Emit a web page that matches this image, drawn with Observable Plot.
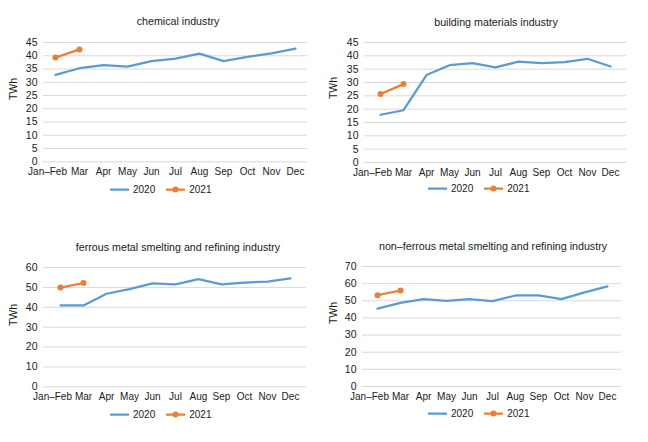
<!DOCTYPE html>
<html>
<head>
<meta charset="utf-8">
<script src="https://cdn.jsdelivr.net/npm/d3@7"></script>
<script src="https://cdn.jsdelivr.net/npm/@observablehq/plot@0.6"></script>
<style>
  html, body { margin: 0; padding: 0; background: #fff; }
  #root { position: relative; width: 648px; height: 442px; font-family: "Liberation Sans", Arial, sans-serif; color: #1a1a1a; overflow: hidden; }
  .panel { position: absolute; width: 324px; height: 221px; }
  .title { position: absolute; font-size: 10.7px; white-space: nowrap; transform: translate(-50%, -50%); }
  .ylab { position: absolute; font-size: 10.5px; white-space: nowrap; transform: translate(-50%, -50%) rotate(-90deg); }
  .legend { position: absolute; display: flex; align-items: center; font-size: 10px; transform: translateY(-50%); }
  .legend svg { display: block; }
  .legend span { margin: 0 11px 0 4px; }
  .panel svg.plot { position: absolute; left: 0; overflow: visible; }
</style>
</head>
<body>
<div id="root"></div>
<script>
// ---- data ----
const months = ["Jan–Feb", "Mar", "Apr", "May", "Jun", "Jul", "Aug", "Sep", "Oct", "Nov", "Dec"];
const months2021 = ["Jan–Feb", "Mar"];

const chemical2020 = [32.8, 35.3, 36.5, 35.9, 38.0, 38.9, 40.8, 38.0, 39.6, 40.9, 42.7];
const chemical2021 = [39.3, 42.4];

const building2020 = [17.9, 19.6, 32.8, 36.5, 37.3, 35.7, 37.8, 37.3, 37.6, 38.9, 36.0];
const building2021 = [25.7, 29.4];

const ferrous2020 = [40.9, 40.9, 46.8, 49.1, 52.0, 51.5, 54.2, 51.5, 52.4, 52.9, 54.5];
const ferrous2021 = [49.9, 52.2];

const nonferrous2020 = [45.4, 48.8, 51.0, 50.0, 51.0, 49.8, 53.1, 53.1, 51.0, 54.9, 58.4];
const nonferrous2021 = [53.3, 56.0];

const titles = ["chemical industry", "building materials industry", "ferrous metal smelting and refining industry", "non–ferrous metal smelting and refining industry"];
const yTicks1 = [0, 5, 10, 15, 20, 25, 30, 35, 40, 45];
const yTicks2 = [0, 5, 10, 15, 20, 25, 30, 35, 40, 45];
const yTicks3 = [0, 10, 20, 30, 40, 50, 60];
const yTicks4 = [0, 10, 20, 30, 40, 50, 60, 70];
const seriesNames = ["2020", "2021"];

const blue = "#5b9bd5";
const orange = "#ed7d31";

// ---- layout (panel-relative pixels) ----
const panels = [
  { left: 0,   top: 0,   title: titles[0], s2020: chemical2020, s2021: chemical2021, ticks: yTicks1,
    frame: {x0: 43, x1: 307, y0: 41.7, y1: 161}, titleXY: [178, 21], ylabXY: [13, 89], legendXY: [110, 189] },
  { left: 324, top: 0,   title: titles[1], s2020: building2020, s2021: building2021, ticks: yTicks2,
    frame: {x0: 40, x1: 302, y0: 41.7, y1: 161.7}, titleXY: [172, 22], ylabXY: [9, 88], legendXY: [104, 188] },
  { left: 0,   top: 230, title: titles[2], s2020: ferrous2020, s2021: ferrous2021, ticks: yTicks3,
    frame: {x0: 43, x1: 306, y0: 36.7, y1: 156}, titleXY: [178, 16.5], ylabXY: [13, 85], legendXY: [110, 184] },
  { left: 324, top: 230, title: titles[3], s2020: nonferrous2020, s2021: nonferrous2021, ticks: yTicks4,
    frame: {x0: 38, x1: 297, y0: 36, y1: 156}, titleXY: [169, 15.5], ylabXY: [9, 83], legendXY: [104, 183] }
];

const root = document.getElementById("root");

for (const p of panels) {
  const div = document.createElement("div");
  div.className = "panel";
  div.style.left = p.left + "px";
  div.style.top = p.top + "px";
  root.appendChild(div);

  const t = document.createElement("div");
  t.className = "title";
  t.textContent = p.title;
  t.style.left = p.titleXY[0] + "px";
  t.style.top = p.titleXY[1] + "px";
  div.appendChild(t);

  const yl = document.createElement("div");
  yl.className = "ylab";
  yl.textContent = "TWh";
  yl.style.left = p.ylabXY[0] + "px";
  yl.style.top = p.ylabXY[1] + "px";
  div.appendChild(yl);

  const data2020 = months.map((m, i) => ({month: m, value: p.s2020[i]}));
  const data2021 = months2021.map((m, i) => ({month: m, value: p.s2021[i]}));

  const svgTop = p.frame.y0 - 20;
  const svgH = (p.frame.y1 + 30) - svgTop;
  const W = 324;

  const chart = Plot.plot({
    width: W,
    height: svgH,
    marginLeft: p.frame.x0,
    marginRight: W - p.frame.x1,
    marginTop: p.frame.y0 - svgTop,
    marginBottom: svgTop + svgH - p.frame.y1,
    style: { fontFamily: "Liberation Sans, Arial, sans-serif", fontSize: "10px", color: "#1a1a1a", background: "transparent", overflow: "visible" },
    x: { type: "point", domain: months, padding: 0.5 },
    y: { domain: [0, p.ticks[p.ticks.length - 1]] },
    marks: [
      Plot.gridY(p.ticks, { stroke: "#d9d9d9", strokeOpacity: 1, strokeWidth: 1 }),
      Plot.axisY(p.ticks, { tickSize: 0, tickPadding: 6, label: null, fill: "#1a1a1a", fontSize: 10.5 }),
      Plot.axisX(months.slice(1), { tickSize: 0, tickPadding: 6.5, label: null, fill: "#1a1a1a" }),
      Plot.axisX(["Jan–Feb"], { tickSize: 0, tickPadding: 6.5, label: null, dx: -8, fill: "#1a1a1a" }),
      Plot.line(data2020, { x: "month", y: "value", stroke: blue, strokeWidth: 2.25, strokeLinejoin: "round", strokeLinecap: "round" }),
      Plot.line(data2021, { x: "month", y: "value", stroke: orange, strokeWidth: 2.25, strokeLinecap: "round" }),
      Plot.dot(data2021, { x: "month", y: "value", fill: orange, r: 3, stroke: "none" })
    ]
  });
  chart.classList.add("plot");
  chart.style.top = svgTop + "px";
  div.appendChild(chart);

  const lg = document.createElement("div");
  lg.className = "legend";
  lg.style.left = p.legendXY[0] + "px";
  lg.style.top = p.legendXY[1] + "px";
  lg.innerHTML =
    `<svg width="19" height="8"><line x1="0" x2="19" y1="4" y2="4" stroke="${blue}" stroke-width="2.25"/></svg><span>${seriesNames[0]}</span>` +
    `<svg width="19" height="8"><line x1="0" x2="19" y1="4" y2="4" stroke="${orange}" stroke-width="2.25"/><circle cx="9.5" cy="4" r="3" fill="${orange}"/></svg><span>${seriesNames[1]}</span>`;
  div.appendChild(lg);
}
</script>
</body>
</html>
